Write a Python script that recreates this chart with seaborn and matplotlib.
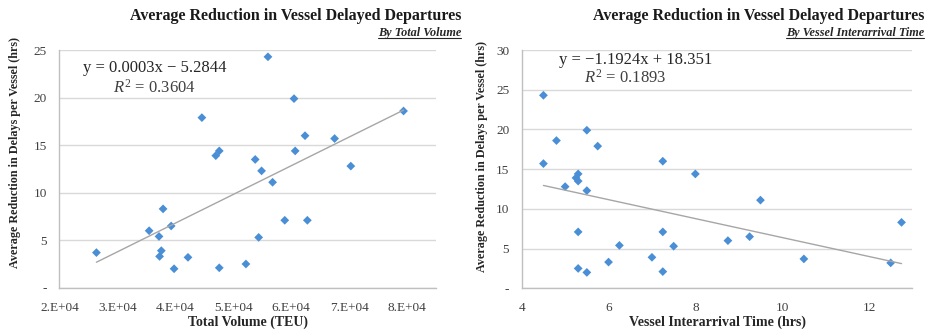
import numpy as np
import pandas as pd
import matplotlib
matplotlib.use("Agg")
import matplotlib.pyplot as plt
from matplotlib.lines import Line2D
from matplotlib.ticker import FuncFormatter, MultipleLocator
import seaborn as sns

# values
delay_reduction = [24.3, 19.9, 18.6, 17.9, 16.0, 15.7, 14.4, 14.4, 13.9, 13.5, 12.8, 12.3, 11.1, 8.3,
                   7.1, 7.1, 6.5, 6.0, 5.4, 5.3, 3.9, 3.7, 3.3, 3.2, 2.5, 2.1, 2.0]
total_volume = [56000, 60500, 79400, 44600, 62400, 67500, 60700, 47600, 47000, 53800, 70300, 54900, 56800, 37900,
                58900, 62800, 39300, 35500, 37200, 54400, 37600, 26400, 37300, 42200, 52200, 47600, 39800]
interarrival = [4.5, 5.5, 4.8, 5.75, 7.25, 4.5, 8.0, 5.3, 5.25, 5.3, 5.0, 5.5, 9.5, 12.75,
                5.3, 7.25, 9.25, 8.75, 6.25, 7.5, 7.0, 10.5, 6.0, 12.5, 5.3, 7.25, 5.5]

title = "Average Reduction in Vessel Delayed Departures"
subtitles = ["By Total Volume", "By Vessel Interarrival Time"]
xlabels = ["Total Volume (TEU)", "Vessel Interarrival Time (hrs)"]
ylabel = "Average Reduction in Delays per Vessel (hrs)"
equations = ["y = 0.0003x \u2212 5.2844", "y = \u22121.1924x + 18.351"]
r_squared = ["0.3604", "0.1893"]

df = pd.DataFrame({"volume": total_volume, "interarrival": interarrival, "delay": delay_reduction})

sns.set_theme(style="white")
plt.rcParams["font.family"] = ["Liberation Serif", "DejaVu Serif"]
plt.rcParams["mathtext.fontset"] = "custom"
plt.rcParams["mathtext.rm"] = "Liberation Serif"
plt.rcParams["mathtext.it"] = "Liberation Serif:italic"

fig = plt.figure(figsize=(9.33, 3.30), dpi=100)
ax1 = fig.add_axes([0.0636, 0.128, 0.4037, 0.720])
ax2 = fig.add_axes([0.5592, 0.1264, 0.4187, 0.722])

point_color = "#4A8FD6"
line_color = "#a6a6a6"

for ax, xcol in [(ax1, "volume"), (ax2, "interarrival")]:
    sns.regplot(data=df, x=xcol, y="delay", ax=ax, ci=None, marker="D",
                scatter_kws=dict(s=20, color=point_color, edgecolor="none", alpha=1),
                line_kws=dict(color=line_color, lw=1))

ax1.set_xlim(20000, 85000)
ax1.set_ylim(0, 25)
ax1.xaxis.set_major_locator(MultipleLocator(10000))
ax1.xaxis.set_major_formatter(FuncFormatter(lambda v, p: "%d.E+04" % round(v / 10000)))

ax2.set_xlim(4, 13)
ax2.set_ylim(0, 30)
ax2.xaxis.set_major_locator(MultipleLocator(2))

eq_pos = [((0.063, 0.924), (0.143, 0.84)), ((0.095, 0.958), (0.16, 0.882))]
label_pos = [(-0.118, 0.571), (-0.101, 0.553)]
xlabel_y = [-0.144, -0.141]

for i, ax in enumerate([ax1, ax2]):
    ax.yaxis.set_major_locator(MultipleLocator(5))
    ax.yaxis.set_major_formatter(FuncFormatter(lambda v, p: "-" if v == 0 else "%d" % v))
    ax.grid(axis="y", color="#d9d9d9", lw=1)
    ax.grid(axis="x", visible=False)
    for s in ["top", "right"]:
        ax.spines[s].set_visible(False)
    for s in ["left", "bottom"]:
        ax.spines[s].set_color("#bfbfbf")
        ax.spines[s].set_linewidth(1)
    ax.tick_params(axis="x", length=4, color="#bfbfbf", labelsize=9.5, labelcolor="#404040", pad=6)
    ax.tick_params(axis="y", length=0, labelsize=9.5, labelcolor="#404040", pad=9)
    ax.set_xlabel(xlabels[i], fontsize=10, fontweight="bold", color="#262626", va="center")
    ax.set_ylabel(ylabel, fontsize=8.7, fontweight="bold", color="#262626", va="center")
    ax.yaxis.set_label_coords(*label_pos[i])
    ax.xaxis.set_label_coords(0.5, xlabel_y[i])
    (ex, ey), (rx, ry) = eq_pos[i]
    ax.text(ex, ey, equations[i], transform=ax.transAxes, fontsize=12, color="#262626",
            ha="left", va="center")
    ax.text(rx, ry, r"$\mathit{R}^{2}$ = " + r_squared[i], transform=ax.transAxes, fontsize=12,
            color="#404040", ha="left", va="center")

right_edges = [461 / 933, 924 / 933]
fig.canvas.draw()
renderer = fig.canvas.get_renderer()
for i in range(2):
    fig.text(right_edges[i], 1 - 16 / 330, title, ha="right", va="center", fontsize=11.5,
             fontweight="bold", color="#1a1a1a")
    st = fig.text(right_edges[i], 1 - 33 / 330, subtitles[i], ha="right", va="center", fontsize=8.8,
                  fontweight="bold", style="italic", color="#262626")
    bb = st.get_window_extent(renderer=renderer)
    inv = fig.transFigure.inverted()
    (x0, y0), (x1, _) = inv.transform([(bb.x0, bb.y0 + 1), (bb.x1, bb.y0 + 1)])
    fig.add_artist(Line2D([x0, x1], [y0, y0], transform=fig.transFigure, color="#262626", lw=0.8))

fig.savefig("out.png", dpi=100)
